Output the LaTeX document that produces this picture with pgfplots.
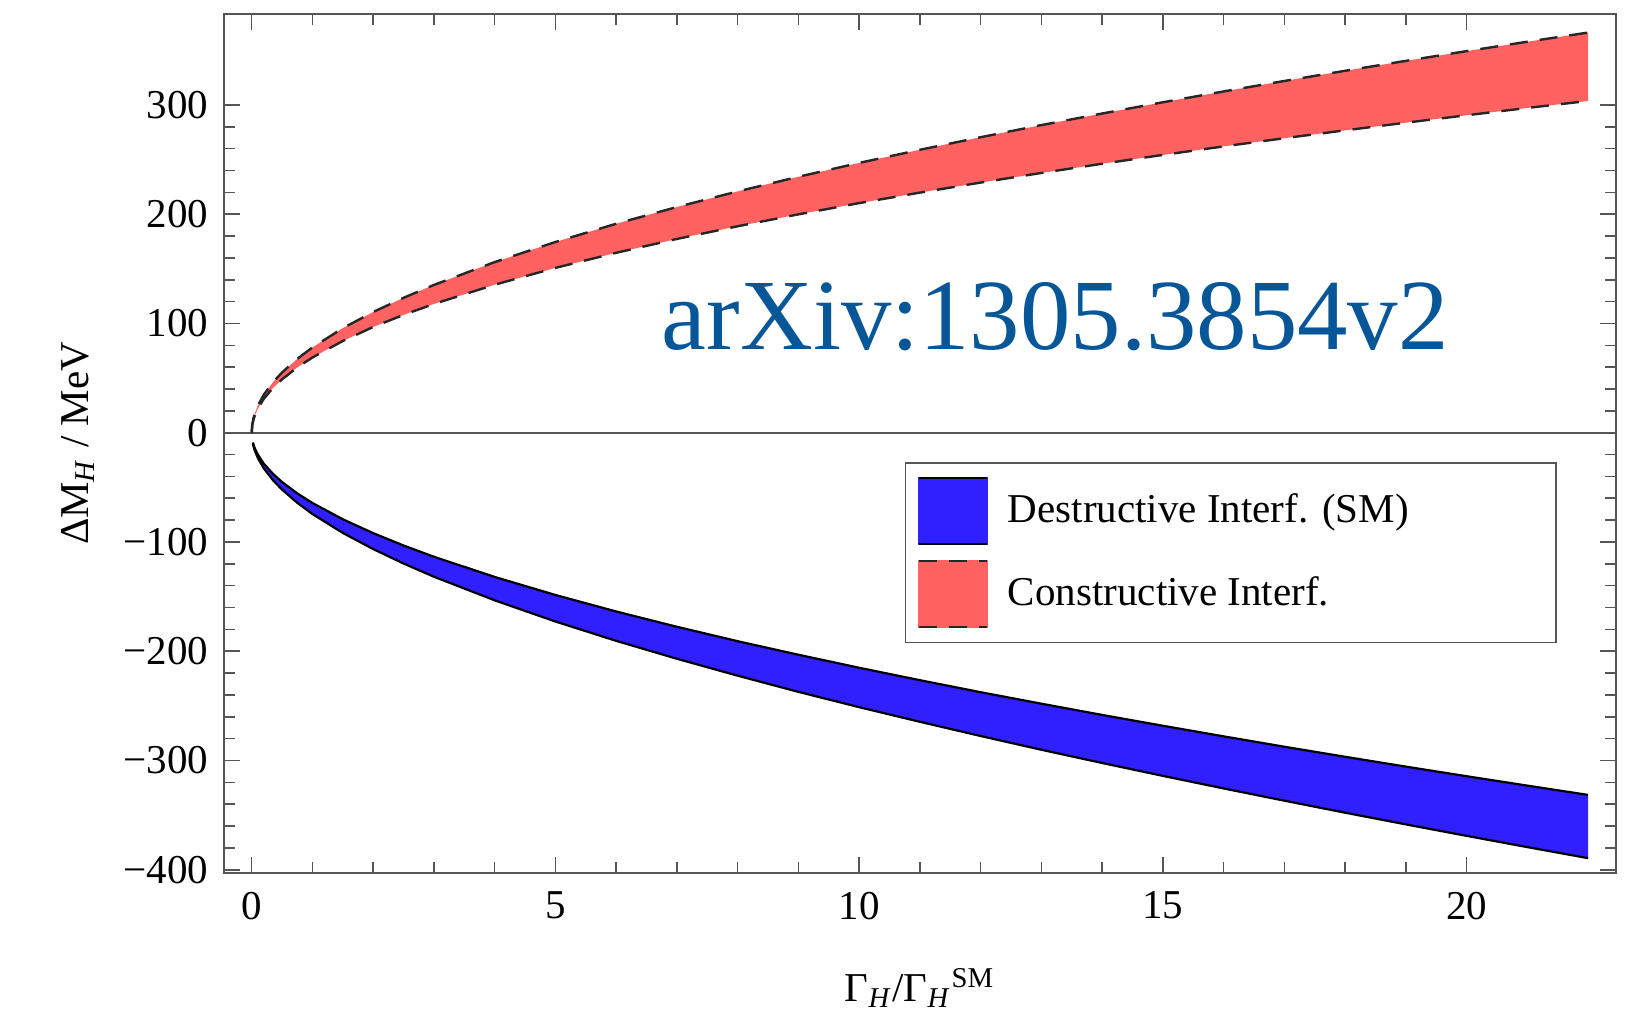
\documentclass[border=0pt]{standalone}
\usepackage{fontspec}
\setmainfont{Liberation Serif}
\usepackage{pgfplots}
\pgfplotsset{compat=1.18}
\usepackage{pgfplotstable}
\usepgfplotslibrary{fillbetween}

\definecolor{redband}{RGB}{255,98,96}
\definecolor{blueband}{RGB}{48,32,255}
\definecolor{arxiv}{RGB}{6,86,152}
\definecolor{framegray}{RGB}{85,85,85}

\pgfplotstableread{
x ru rl
0 0 0
0.01 7.8 7.0
0.03 13.5 12.1
0.05 17.5 15.6
0.1 24.7 22.0
0.2 34.9 31.1
0.35 46.2 41.0
0.5 55.2 48.9
0.75 67.6 59.8
1 78.1 68.9
1.5 95.7 84.0
2 110.5 96.8
2.5 123.5 107.9
3 135.3 117.9
4 156.2 135.5
5 174.6 150.9
6 191.3 164.7
7 206.6 177.4
8 220.9 189.0
9 234.3 199.9
10 247.0 210.2
11 259.0 219.8
12 270.5 229.0
13 281.6 237.8
14 292.2 246.2
15 302.5 254.3
16 312.4 262.1
17 322.0 269.6
18 331.3 276.8
19 340.4 283.8
20 349.3 290.6
21 357.9 297.3
22 366.3 303.7
}\constructive

\pgfplotstableread{
x bu bl
0.02 -8.9 -10.2
0.03 -10.9 -12.5
0.05 -14.1 -16.2
0.1 -19.9 -23.0
0.2 -28.3 -32.7
0.35 -37.6 -43.4
0.5 -45.1 -52.1
0.75 -55.5 -64.1
1 -64.3 -74.4
1.5 -79.2 -91.7
2 -91.9 -106.5
2.5 -103.2 -119.7
3 -113.5 -131.8
4 -132.0 -153.4
5 -148.5 -172.8
6 -163.6 -190.5
7 -177.6 -206.9
8 -190.8 -222.4
9 -203.2 -237.2
10 -215.1 -251.2
11 -226.5 -264.6
12 -237.5 -277.6
13 -248.0 -290.2
14 -258.3 -302.3
15 -268.2 -314.1
16 -277.9 -325.6
17 -287.4 -336.8
18 -296.6 -347.8
19 -305.6 -358.5
20 -314.4 -369.0
21 -323.0 -379.3
22 -331.5 -389.4
}\destructive

\begin{document}
\begin{tikzpicture}[font=\fontsize{10.25}{12.3}\selectfont]
\begin{axis}[name=main,
  scale only axis, width=348pt, height=214.75pt,
  xmin=-0.456, xmax=22.46, ymin=-403, ymax=383.3,
  xtick={0,5,10,15,20}, xticklabels={0,5,10,15,20},
  ytick={-400,-300,-200,-100,0,100,200,300},
  yticklabels={−400,−300,−200,−100,0,100,200,300},
  minor x tick num=4, minor y tick num=4,
  tick align=inside, major tick length=4pt, minor tick length=2.75pt,
  axis line style={framegray, line width=0.45pt},
  every tick/.style={framegray, line width=0.4pt},
  xticklabel style={inner sep=0pt, anchor=north, yshift=-4.5pt},
  yticklabel style={inner sep=0pt, anchor=east, xshift=-3.75pt},
  xlabel={Γ\textsubscript{\textit{H}}/Γ\textsubscript{\textit{H}}\textsuperscript{SM}},
  ylabel={ΔM\textsubscript{\textit{H}} / MeV},
  xlabel style={at={(axis description cs:0.5,-0.1339)}, anchor=center},
  ylabel style={at={(axis description cs:-0.1049,0.5)}, anchor=center},
  legend cell align=left,
  legend style={at={(0.489,0.4785)}, anchor=north west, draw=framegray,
    line width=0.45pt, inner xsep=3pt, inner ysep=3.5pt, row sep=3.75pt,
    nodes={inner sep=0pt}, fill=white,
    /tikz/every odd column/.append style={column sep=5pt}},
]
\addlegendimage{legend image code/.code={
  \fill[blueband] (0pt,-8.25pt) rectangle (17pt,8.25pt);
  \draw[black, line width=0.55pt] (0pt,8.25pt) -- (17pt,8.25pt) (0pt,-8.25pt) -- (17pt,-8.25pt);}}
\addlegendentry{\makebox[134pt][l]{Destructive Interf. (SM)}}
\addlegendimage{legend image code/.code={
  \fill[redband] (0pt,-8.25pt) rectangle (17pt,8.25pt);
  \draw[black!85, line width=0.6pt, dash pattern=on 4.5pt off 3pt] (0pt,8.25pt) -- (17pt,8.25pt) (0pt,-8.25pt) -- (17pt,-8.25pt);}}
\addlegendentry{\makebox[134pt][l]{Constructive Interf.}}

\addplot[draw=none, name path=ru, forget plot] table[x=x, y=ru] {\constructive};
\addplot[draw=none, name path=rl, forget plot] table[x=x, y=rl] {\constructive};
\addplot[redband, forget plot] fill between[of=ru and rl];
\addplot[draw=none, name path=bu, forget plot] table[x=x, y=bu] {\destructive};
\addplot[draw=none, name path=bl, forget plot] table[x=x, y=bl] {\destructive};
\addplot[blueband, forget plot] fill between[of=bu and bl];

\addplot[framegray, line width=0.5pt, forget plot] coordinates {(-0.456,0) (22.46,0)};

\addplot[black!85, line width=0.6pt, dash pattern=on 4.5pt off 3pt, forget plot] table[x=x, y=ru] {\constructive};
\addplot[black!85, line width=0.6pt, dash pattern=on 4.5pt off 3pt, forget plot] table[x=x, y=rl] {\constructive};
\addplot[black, line width=0.55pt, forget plot] table[x=x, y=bu] {\destructive};
\addplot[black, line width=0.55pt, forget plot] table[x=x, y=bl] {\destructive};

\node[anchor=base west, inner sep=0pt, text=arxiv, font=\fontsize{25.2}{30}\selectfont] at (axis cs:6.74,75.9) {arXiv:1305.3854v2};
\end{axis}
\pgfresetboundingbox
\path[use as bounding box] ([shift={(-56pt,-36.75pt)}]main.south west) rectangle ([shift={(354pt,218.25pt)}]main.south west);
\end{tikzpicture}
\end{document}
